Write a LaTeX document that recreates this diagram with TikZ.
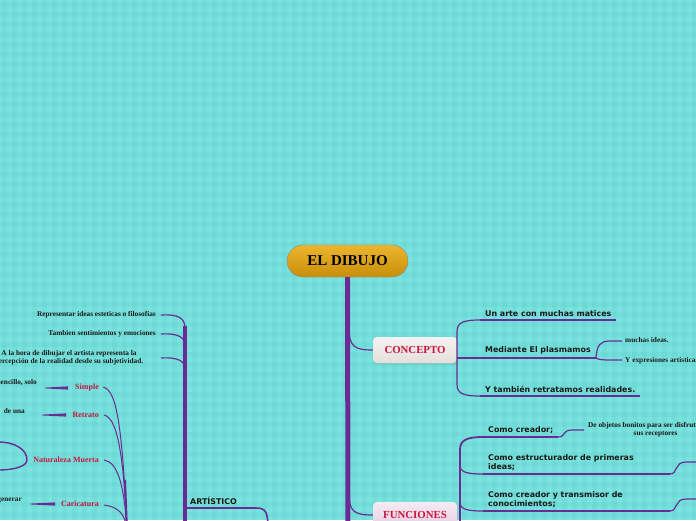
\documentclass[tikz,border=0pt]{standalone}
\usepackage{fontspec}
\setmainfont{Liberation Serif}
\newfontfamily\vsans{DejaVu Sans}
\usetikzlibrary{shadows}
\definecolor{bg}{HTML}{7AE3DF}
\definecolor{stripe}{HTML}{5CCBC7}
\definecolor{pur}{HTML}{6A2C94}
\definecolor{crim}{HTML}{C8143C}
\definecolor{goldt}{HTML}{EDB52C}
\definecolor{goldb}{HTML}{C88E0C}
\definecolor{cbox}{HTML}{E4DFDB}
\definecolor{fbox}{HTML}{E6CDE2}
\tikzset{
  conn/.style={draw=pur, line width=1.2pt},
  uline/.style={draw=pur, line width=2pt},
  trunk/.style={draw=pur, line width=5pt},
  vline/.style={draw=pur, line width=3.5pt},
  lbl/.style={font=\vsans\bfseries\fontsize{7.9}{9}\selectfont, inner sep=0pt, align=left, text=black!90},
  small/.style={font=\bfseries\fontsize{7.3}{8.2}\selectfont, inner sep=0pt, align=center, text=black!90},
  red/.style={font=\bfseries\fontsize{8}{9.5}\selectfont, inner sep=0pt, text=crim},
  boxc/.style={rounded corners=4pt, minimum width=84pt, minimum height=26pt, inner sep=0pt,
    top color=#1!40!white, bottom color=#1, drop shadow={opacity=0.25, shadow xshift=1pt, shadow yshift=-1.5pt},
    font=\bfseries\fontsize{10.8}{12}\selectfont, text=crim},
}
\begin{document}
\begin{tikzpicture}[x=1pt,y=-1pt]
\useasboundingbox (0,0) rectangle (696,520);
\clip (0,0) rectangle (696,520);
% background plaid
\fill[bg] (0,0) rectangle (696,520);
\foreach \i in {0,...,69} \fill[stripe, opacity=0.22] (\i*10+2,0) rectangle ++(5,520);
\foreach \j in {0,...,52} \fill[stripe, opacity=0.22] (0,\j*10+2) rectangle ++(696,5);

% root
\node[draw=black!45, line width=0.4pt, rounded corners=16pt, minimum width=121pt, minimum height=32pt,
  top color=goldt, bottom color=goldb, inner sep=0pt, font=\bfseries\fontsize{15}{17}\selectfont]
  (root) at (347.5,261) {EL DIBUJO};
\coordinate (trunkend) at (348,530);
\draw[trunk] (root.south) -- (trunkend);

% CONCEPTO
\node[boxc=cbox] (concepto) at (415,350) {CONCEPTO};
\coordinate (tc) at (349,328);
\draw[conn] (tc) .. controls (349,347) and (355,350) .. (concepto.west);

\coordinate (u1a) at (480,320); \coordinate (u1b) at (616,320);
\coordinate (u2a) at (480,358); \coordinate (u2b) at (596,358);
\coordinate (u3a) at (480,396); \coordinate (u3b) at (640,396);
\coordinate (bm) at (457,358);
\node[lbl, anchor=south west] (c1) at (485,316.5) {Un arte con muchas matices};
\node[lbl, anchor=south west] (c2) at (485,354.5) {Mediante El plasmamos};
\node[lbl, anchor=south west] (c3) at (485,392.5) {Y también retratamos realidades.};
\draw[uline] (u1a) -- (u1b);
\draw[uline] (u2a) -- (u2b);
\draw[uline] (u3a) -- (u3b);
\draw[conn] (u1a) .. controls (462,320) and (457,323) .. (457,332) -- (457,384) .. controls (457,393) and (462,396) .. (u3a);
\draw[conn] (bm) -- (u2a);

\coordinate (m1) at (622,341); \coordinate (m2) at (622,360);
\draw[conn] (u2b) .. controls (597,345) and (600,341) .. (610,341) -- (m1);
\draw[conn] (u2b) .. controls (600,360) .. (m2);
\node[small, anchor=west] (mi1) at (625,340.5) {muchas ideas.};
\node[small, anchor=west] (mi2) at (625,361) {Y expresiones artisticas};

% FUNCIONES
\node[boxc=fbox] (func) at (415,515) {FUNCIONES};
\coordinate (tf) at (349,494);
\draw[conn] (tf) .. controls (349,512) and (355,515) .. (func.west);

\coordinate (f1a) at (483,437); \coordinate (f1b) at (558,437);
\coordinate (f2a) at (483,474); \coordinate (f2b) at (670,474);
\coordinate (f3a) at (483,511); \coordinate (f3b) at (670,511);
\coordinate (fv) at (460,530);
\node[lbl, anchor=south west] (fu1) at (488,433.5) {Como creador;};
\node[lbl, anchor=south west] (fu2) at (488,470.5) {Como estructurador de primeras\\ideas;};
\node[lbl, anchor=south west] (fu3) at (488,507.5) {Como creador y transmisor de\\conocimientos;};
\draw[uline] (f1a) -- (f1b);
\draw[uline] (f2a) -- (f2b);
\draw[uline] (f3a) -- (f3b);
\draw[conn, line width=1.8pt] (f1a) .. controls (465,437) and (460,441) .. (460,450) -- (fv);
\draw[conn] (460,465) .. controls (460,472) and (466,474) .. (f2a);
\draw[conn] (460,502) .. controls (460,509) and (466,511) .. (f3a);

\coordinate (f1c) at (584,430);
\draw[conn] (f1b) .. controls (566,437) and (562,430) .. (572,430) -- (f1c);
\node[small, anchor=west] (obj) at (588,429.5) {De objetos bonitos para ser disfrutados por\\sus receptores};
\coordinate (f2c) at (700,462);
\draw[conn] (f2b) .. controls (678,474) and (674,462) .. (686,462) -- (f2c);
\coordinate (f3c) at (700,499);
\draw[conn] (f3b) .. controls (678,511) and (674,499) .. (686,499) -- (f3c);

% ARTISTICO
\coordinate (a1) at (185,508); \coordinate (a2) at (256,508); \coordinate (a3) at (268,530);
\node[lbl, anchor=south west] (art) at (190,504.5) {ARTÍSTICO};
\draw[uline] (a1) -- (a2);
\draw[conn, line width=1.6pt] (a2) .. controls (266,508) and (268,512) .. (a3);
\coordinate (lv) at (185,530);
\draw[vline] (185,326) -- (lv);

\node[small, anchor=east] (r1) at (156,314.5) {Representar ideas esteticas o filosofias};
\node[small, anchor=east] (r2) at (156,333.5) {Tambien sentimientos y emociones};
\node[small] (r3) at (69,357.5) {A la hora de dibujar el artista representa la\\percepción de la realidad desde su subjetividad.};
\coordinate (l1) at (161,315); \coordinate (l2) at (161,334); \coordinate (l3) at (161,358);
\draw[conn] (l1) .. controls (178,314) and (185,318) .. (185,328);
\draw[conn] (l2) .. controls (178,333) and (185,337) .. (185,346);
\draw[conn] (l3) .. controls (178,357) and (185,361) .. (185,369);

% red labels
\node[red, anchor=east] (simple) at (99,388) {Simple};
\node[red, anchor=east] (retrato) at (99,415) {Retrato};
\node[red, anchor=east] (nat) at (99,460) {Naturaleza Muerta};
\node[red, anchor=east] (cari) at (99,504) {Caricatura};
\coordinate (bund) at (127,530);
\draw[conn, line width=1pt] (103,387) .. controls (116,390) and (122,420) .. (bund);
\draw[conn, line width=1pt] (104,415) .. controls (116,418) and (123,445) .. (bund);
\draw[conn, line width=1pt] (104,460) .. controls (117,462) and (124,482) .. (bund);
\draw[conn, line width=1pt] (104,505) .. controls (118,507) and (125,513) .. (bund);
\draw[conn, line width=2pt] (125,480) -- (bund);

% tapered connectors to left texts
\fill[pur] (45,387.6) -- (68,386.4) -- (68,389.6) -- (45,388.4) -- cycle;
\fill[pur] (42,414.6) -- (66,413.4) -- (66,416.6) -- (42,415.4) -- cycle;
\fill[pur] (30,503.6) -- (55,502.4) -- (55,505.6) -- (30,504.4) -- cycle;
\node[small, anchor=east] (s1) at (37,383) {sencillo, solo};
\node[small, anchor=east] (s2) at (25,411) {de una};
\node[small, anchor=east] (s4) at (22,500) {generar};
\coordinate (nb1) at (-2,442); \coordinate (nb2) at (-2,470);
\draw[conn, line width=1.4pt] (nb1) .. controls (16,442) and (27,450) .. (27,460) .. controls (27,466) and (15,470) .. (nb2);
\end{tikzpicture}
\end{document}
